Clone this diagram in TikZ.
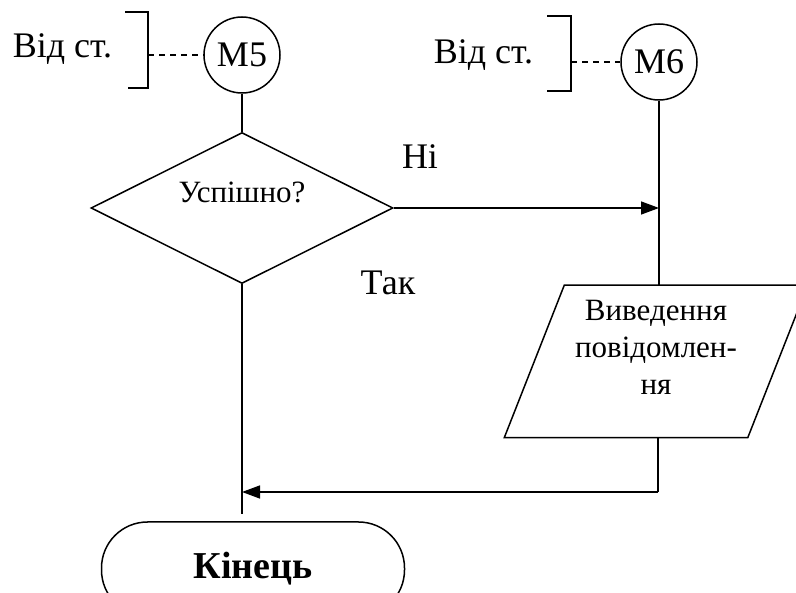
\documentclass[tikz,border=0pt]{standalone}
\usepackage{fontspec}
\setmainfont{Liberation Serif}
\usetikzlibrary{shapes.geometric,arrows.meta,calc}
\begin{document}
\begin{tikzpicture}[x=1pt,y=-1pt,line width=1.5pt,
  conn/.style={draw,line width=1.5pt},
  arr/.style={-{Triangle[length=18pt,width=13pt]}},
  dashconn/.style={draw,line width=1.5pt,dash pattern=on 6pt off 5pt},
  pagecon/.style={draw,circle,minimum size=76pt,inner sep=0pt,line width=1.5pt,font=\fontsize{36}{40}\selectfont},
  lbl/.style={inner sep=0pt,font=\fontsize{36}{40}\selectfont},
  small/.style={inner sep=0pt,align=center,font=\fontsize{31}{37}\selectfont},
  bracket/.style={draw,line width=1.5pt}
]
\useasboundingbox (0,0) rectangle (796,593);
\clip (0,0) rectangle (796,593);

% page connectors
\node[pagecon] (m5) at (242,55) {M5};
\node[pagecon] (m6) at (659,62) {M6};

% "from page" labels and brackets
\node[lbl,anchor=base west] (f5) at (12,58) {Від ст.};
\node[lbl,anchor=base west] (f6) at (433,64) {Від ст.};
\path[bracket] (125,12) -- (148,12) -- (148,88) -- (128,88);
\path[bracket] (547,16) -- (571,16) -- (571,91) -- (547,91);
\coordinate (b5) at (148,55);
\coordinate (b6) at (571,62);
\path[dashconn] (b5) -- (m5.west);
\path[dashconn] (b6) -- (m6.west);

% decision
\node[draw,diamond,aspect=2,minimum width=302pt,minimum height=151pt,inner sep=0pt,
  label={[small,yshift=16pt]center:Успішно?}] (dec) at (242,208) {};

% output (parallelogram drawn round a body node)
\node[minimum width=242pt,minimum height=151pt,inner sep=0pt,
  label={[small,yshift=14pt]center:Виведення\\повідомлен-\\ня}] (out) at (656,361.5) {};
\path[draw,line width=1.5pt] ($(out.south west)+(-30,0)$) -- ($(out.south east)+(-30,0)$)
  -- ($(out.north east)+(30,0)$) -- ($(out.north west)+(30,0)$) -- cycle;

% terminator
\node[draw,rounded corners=46pt,minimum width=303pt,minimum height=94pt,inner sep=0pt,
  font=\bfseries\fontsize{38}{40}\selectfont] (end) at (253,569) {Кінець};

% branch labels
\node[lbl] (no) at (420,157) {Ні};
\node[lbl] (yes) at (388,283) {Так};

% connectors
\path[conn] (m5) -- (dec.north);
\path[conn] (m6) -- (m6 |- out.north);
\path[conn,arr] (dec.east) -- (dec.east -| m6.south);
\coordinate (j2) at (658,492);
\coordinate (tail) at (242,514);
\path[conn] (out.south -| j2) -- (j2);
\path[conn,arr] (j2) -- (j2 -| dec.south);
\path[conn] (dec.south) -- (tail);
\end{tikzpicture}
\end{document}
